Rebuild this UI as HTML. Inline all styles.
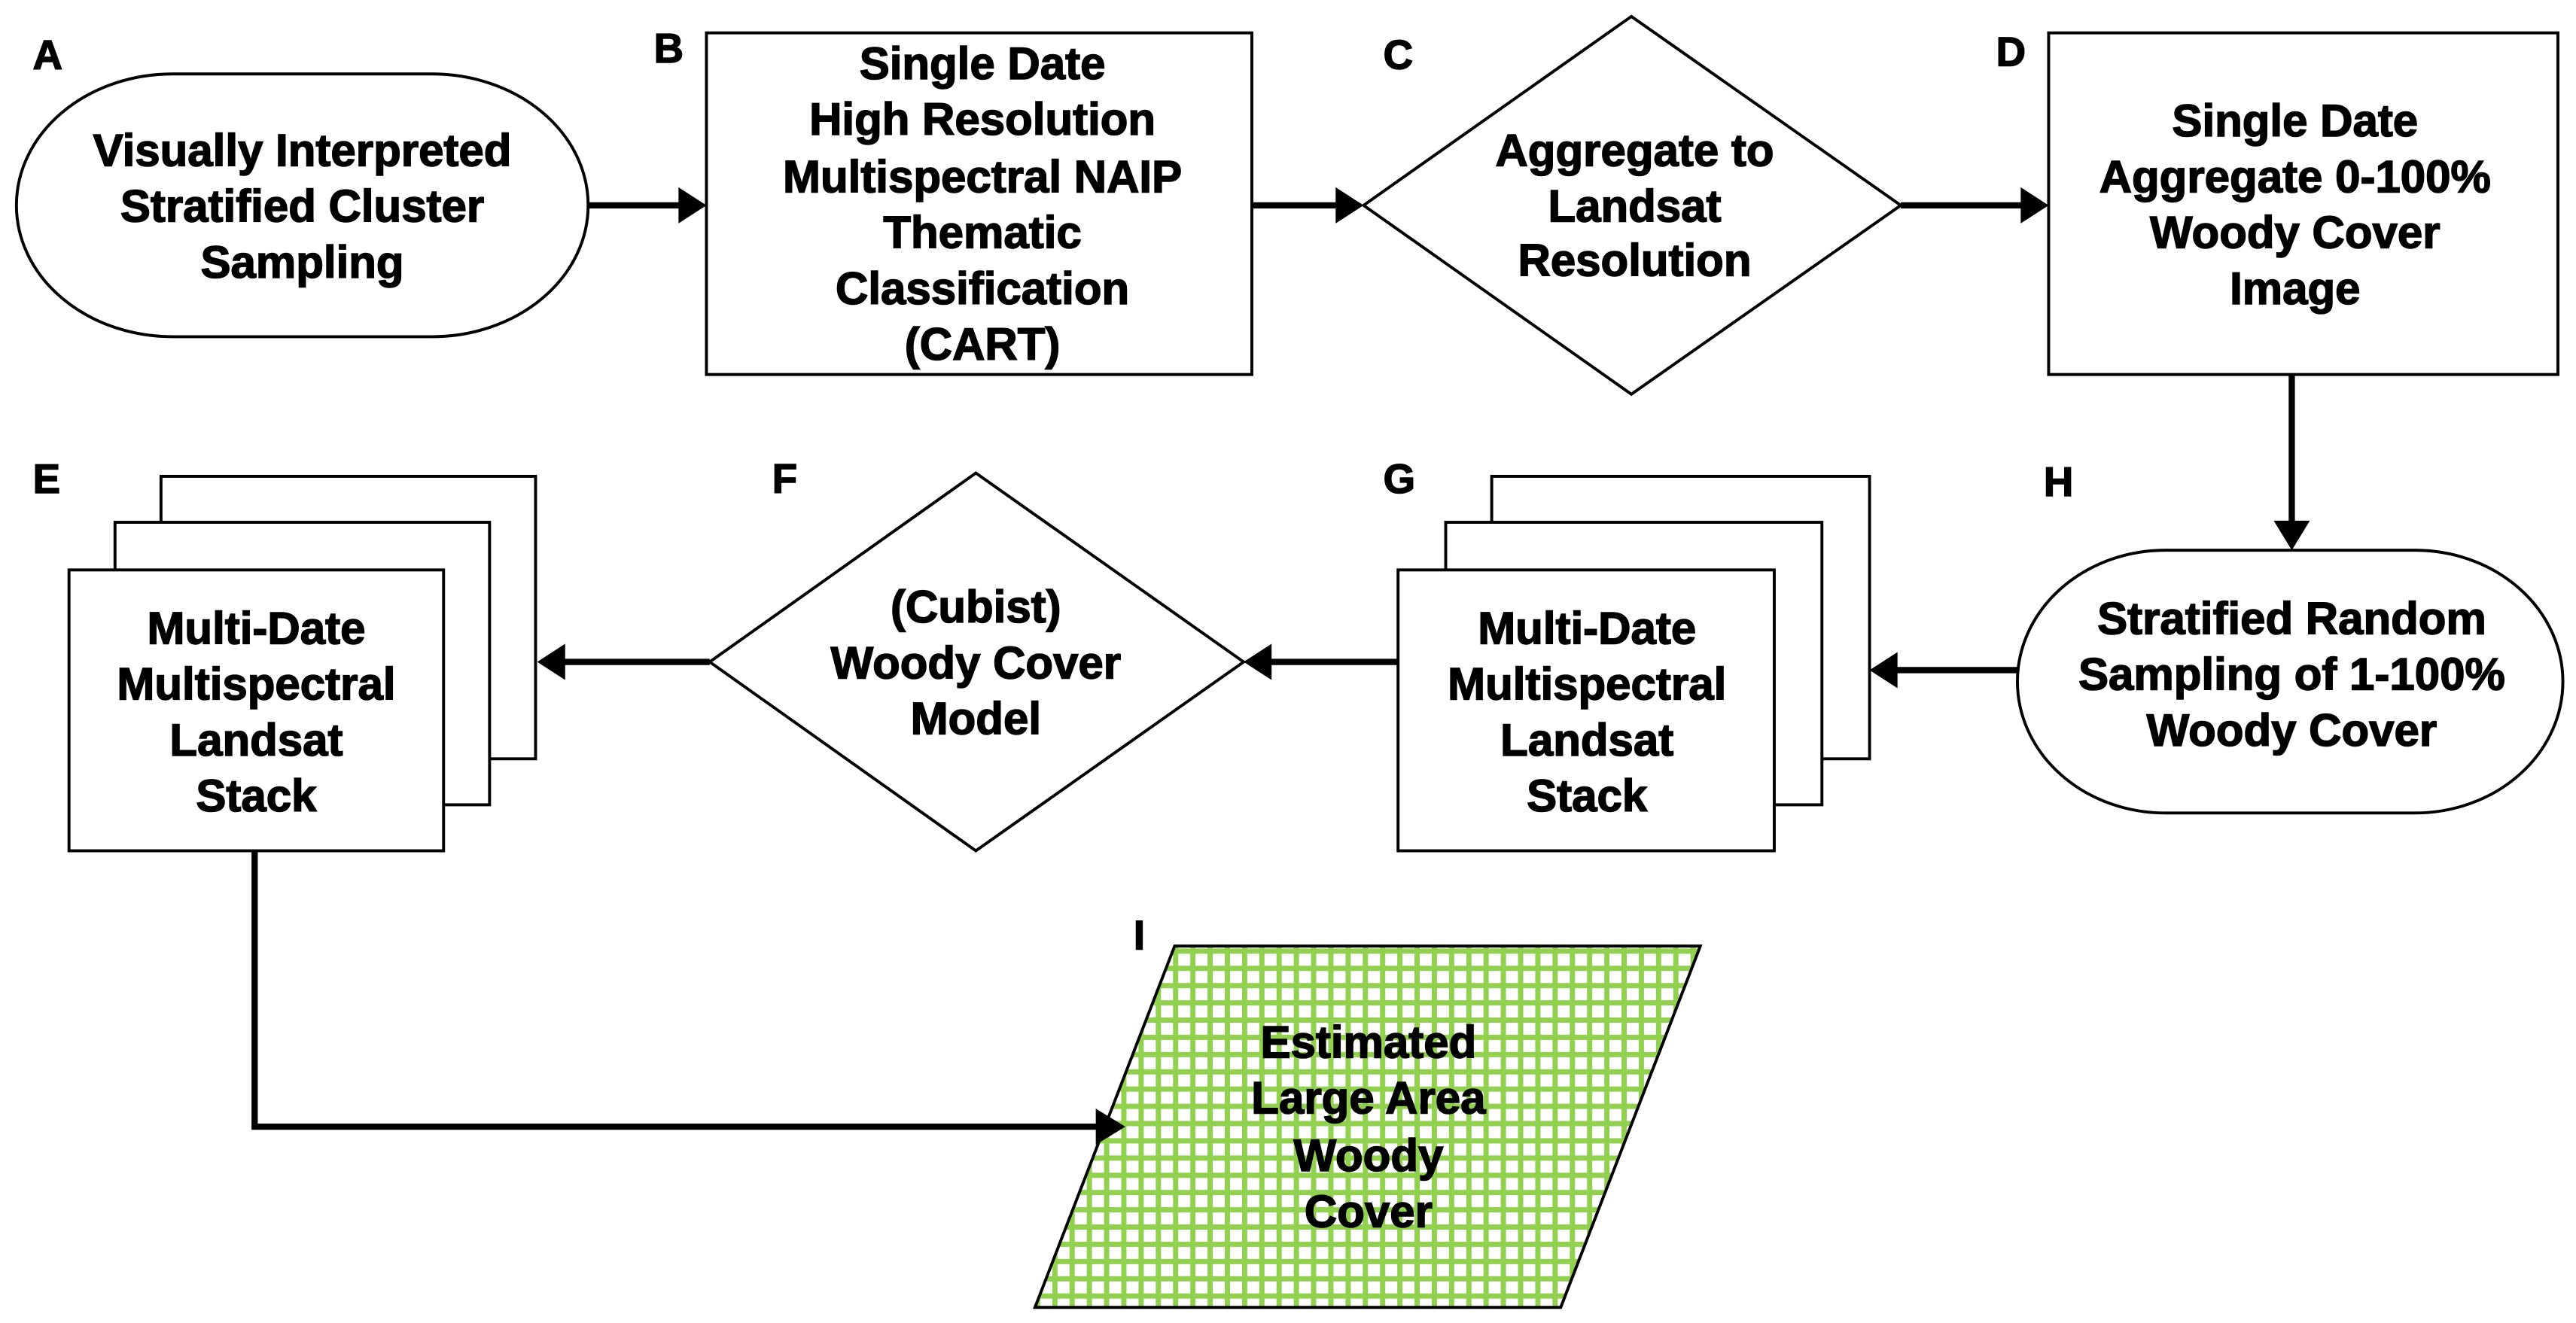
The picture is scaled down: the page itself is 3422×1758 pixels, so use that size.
<!DOCTYPE html>
<html><head><meta charset="utf-8"><style>
html,body{margin:0;padding:0;background:#fff;}
svg{display:block;}
text{font-family:"Liberation Sans",Arial,sans-serif;font-weight:bold;font-size:27.5px;fill:#000;stroke:#000;stroke-width:0.7;text-anchor:middle;}
.lb{text-anchor:start;font-size:25px;}
</style></head><body>
<svg width="3422" height="1758" viewBox="0 0 1568 805.5" xmlns="http://www.w3.org/2000/svg">
<defs>
<pattern id="grid" width="10.5" height="10.5" patternUnits="userSpaceOnUse">
<rect width="10.5" height="10.5" fill="#fff"/>
<rect x="0" y="0" width="3.2" height="10.5" fill="#92d050"/>
<rect x="0" y="0" width="10.5" height="3.2" fill="#92d050"/>
</pattern>
</defs>
<g fill="#fff" stroke="#000" stroke-width="1.8">
<rect x="10" y="45" width="348" height="160" rx="95" ry="80"/>
<rect x="430" y="20" width="332" height="208"/>
<polygon points="993,10 1157,125 993,240 830,125"/>
<rect x="1247" y="20" width="310" height="208"/>
<rect x="1228" y="335" width="332" height="160" rx="90" ry="80"/>
<rect x="908" y="290" width="230" height="172"/>
<rect x="880" y="318" width="229" height="172"/>
<rect x="851" y="347" width="229" height="171"/>
<polygon points="594,288 757,403 594,518 432,403"/>
<rect x="98" y="290" width="228" height="172"/>
<rect x="70" y="318" width="228" height="172"/>
<rect x="42" y="347" width="228" height="171"/>
<polygon points="715,576 1035,576 950,796 630,796" fill="url(#grid)"/>
</g>
<g stroke="#000" stroke-width="3.8" fill="none">
<line x1="358" y1="125" x2="418" y2="125"/>
<line x1="762" y1="125" x2="818" y2="125"/>
<line x1="1157" y1="125" x2="1235" y2="125"/>
<line x1="1395" y1="228" x2="1395" y2="323"/>
<line x1="1228" y1="408" x2="1150" y2="408"/>
<line x1="851" y1="403" x2="769" y2="403"/>
<line x1="432" y1="403" x2="339" y2="403"/>
<polyline points="155,518 155,686 671,686"/>
</g>
<g fill="#000">
<polygon points="430,125 413,114 413,136"/>
<polygon points="830,125 813,114 813,136"/>
<polygon points="1247,125 1230,114 1230,136"/>
<polygon points="1395,335 1384,317 1406,317"/>
<polygon points="1138,408 1155,397 1155,419"/>
<polygon points="757,403 774,392 774,414"/>
<polygon points="327,403 344,392 344,414"/>
<polygon points="685,686 667,675 667,697"/>
</g>
<text class="lb" x="20" y="42">A</text>
<text class="lb" x="398" y="38">B</text>
<text class="lb" x="842" y="42">C</text>
<text class="lb" x="1215" y="40">D</text>
<text class="lb" x="20" y="300">E</text>
<text class="lb" x="470" y="300">F</text>
<text class="lb" x="842" y="300">G</text>
<text class="lb" x="1244" y="302">H</text>
<text class="lb" x="690" y="578">I</text>
<text x="184" y="101">Visually Interpreted</text>
<text x="184" y="135">Stratified Cluster</text>
<text x="184" y="169">Sampling</text>
<text x="598" y="48">Single Date</text>
<text x="598" y="82">High Resolution</text>
<text x="598" y="117">Multispectral NAIP</text>
<text x="598" y="151">Thematic</text>
<text x="598" y="185">Classification</text>
<text x="598" y="219">(CART)</text>
<text x="995" y="101">Aggregate to</text>
<text x="995" y="135">Landsat</text>
<text x="995" y="168">Resolution</text>
<text x="1397" y="83">Single Date</text>
<text x="1397" y="117">Aggregate 0-100%</text>
<text x="1397" y="151">Woody Cover</text>
<text x="1397" y="185">Image</text>
<text x="1395" y="386">Stratified Random</text>
<text x="1395" y="420">Sampling of 1-100%</text>
<text x="1395" y="454">Woody Cover</text>
<text x="966" y="392">Multi-Date</text>
<text x="966" y="426">Multispectral</text>
<text x="966" y="460">Landsat</text>
<text x="966" y="494">Stack</text>
<text x="594" y="379">(Cubist)</text>
<text x="594" y="413">Woody Cover</text>
<text x="594" y="447">Model</text>
<text x="156" y="392">Multi-Date</text>
<text x="156" y="426">Multispectral</text>
<text x="156" y="460">Landsat</text>
<text x="156" y="494">Stack</text>
<text x="833" y="644">Estimated</text>
<text x="833" y="678">Large Area</text>
<text x="833" y="713">Woody</text>
<text x="833" y="747">Cover</text>
</svg>
</body></html>
